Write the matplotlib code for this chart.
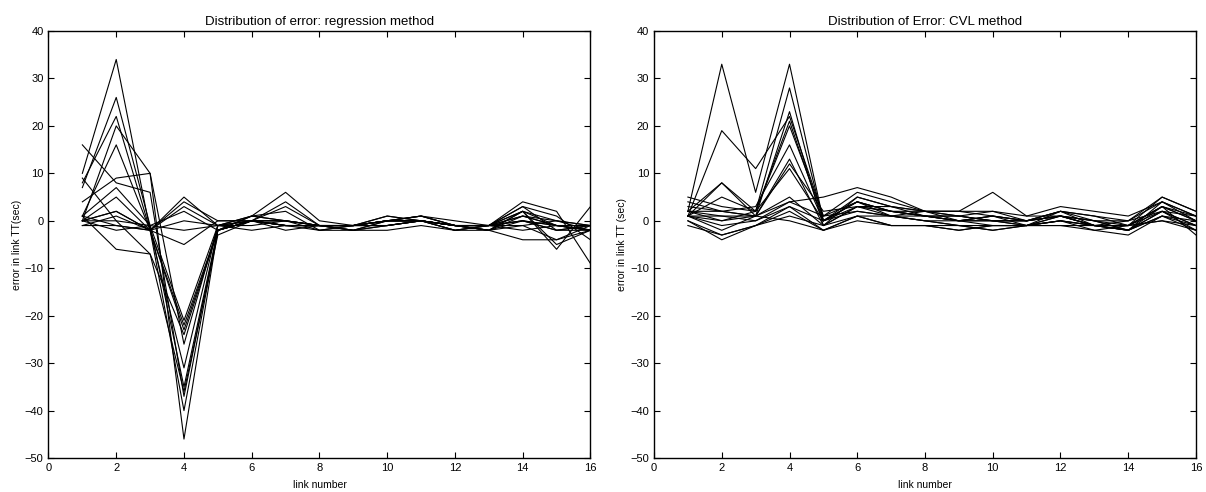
import matplotlib.pyplot as plt

plt.rcParams['font.family'] = ['Liberation Sans', 'DejaVu Sans']

links = list(range(1, 17))

# errors per run, regression method (one list per run)
reg_runs = [
    [10, 34, -2, -23, -2, 0, -1, -1, -1, 0, 0, -1, -1, 1, 0, -1],
    [7, 26, -1, -35, -2, 1, 0, -1, -1, 0, 1, -1, -1, 2, 0, -2],
    [8, 22, -2, -40, -2, 0, -1, -1, -2, 0, 0, -1, -2, 1, -1, -1],
    [0, 20, 10, -46, -2, 0, 0, -1, -1, -1, 0, -2, -1, 0, -1, -2],
    [1, 16, -2, -31, -1, 0, -1, -1, -2, 0, 0, -1, -1, 0, -2, -2],
    [16, 8, 6, -37, -2, 0, 0, -1, -1, 0, 0, -1, -1, 3, -2, -1],
    [4, 9, 10, -26, -1, 0, -1, -1, -1, 1, 0, -1, -2, 2, -1, -2],
    [9, 0, -7, -36, -3, 0, 0, -2, -1, 0, 1, -1, -1, 0, -1, -1],
    [1, -6, -7, -24, -2, 0, -1, -1, -1, -1, 0, -1, -1, -1, -4, -2],
    [0, 2, -2, -22, -2, 0, -1, -1, -1, 0, 0, -1, -2, 0, -2, -1],
    [1, 7, -1, -21, -1, 1, 0, -1, -1, 0, 0, -2, -1, 1, -1, -2],
    [0, 5, -2, 5, -1, 1, 6, 0, -1, 0, 1, 0, -1, 4, 2, -9],
    [0, 2, -2, 4, 0, 0, 4, -1, -2, -1, 0, -1, -1, 3, 1, -4],
    [-1, 1, -2, 3, -1, 0, 3, -1, -1, 1, 0, -1, -2, 2, -5, -2],
    [0, 0, -1, 2, -2, 1, 2, -2, -1, 0, 1, -1, -1, 2, -6, 3],
    [1, -1, -2, 0, -1, -1, 0, -1, -1, -1, 0, -1, -2, -1, 0, -1],
    [0, -2, -1, -2, -1, -2, -1, -2, -2, -1, 0, -2, -1, -2, -1, -2],
    [-1, -1, -2, -5, 0, 0, -2, -1, -2, -2, -1, -2, -2, -4, -4, -1],
]

# errors per run, CVL method
cvl_runs = [
    [2, 33, 6, 33, 0, 3, 2, 1, 0, 1, -1, 1, -1, -1, 3, 1],
    [1, 19, 11, 22, 1, 4, 2, 1, 1, 0, 0, 2, -1, -2, 4, 0],
    [1, 8, 2, 28, 0, 5, 3, 2, 1, 0, -1, 1, 0, -1, 5, 2],
    [2, 8, 1, 23, -1, 3, 1, 0, 0, -1, -1, 0, -1, -2, 2, -1],
    [1, 5, 2, 21, 0, 4, 2, 1, 0, 1, 0, 1, -1, -1, 3, 0],
    [5, 3, 2, 20, 1, 6, 4, 2, 2, 1, 0, 2, 1, 0, 5, 2],
    [4, 2, 3, 16, 0, 4, 2, 2, 2, 2, 1, 3, 2, 1, 4, 1],
    [3, 2, 1, 13, -1, 3, 2, 1, 1, 0, 0, 1, 0, -2, 2, -2],
    [1, 1, 1, 12, 2, 3, 3, 2, 2, 6, 1, 1, -1, -1, 3, 0],
    [2, 0, 2, 11, 0, 4, 1, 2, 1, 2, 0, 1, -1, 0, 4, 1],
    [1, -1, 0, 4, 5, 7, 5, 2, 0, 0, -1, 2, 1, -1, 2, -1],
    [2, 2, 1, 5, -1, 5, 3, 1, 0, 1, 0, 2, 0, -2, 3, -3],
    [1, -2, 1, 4, 1, 2, 1, 0, -1, -1, -1, 0, -1, -2, 1, 0],
    [0, -3, -1, 3, -2, 1, 1, 0, -1, -2, -1, 0, -2, -3, 1, -1],
    [0, -4, -1, 2, -2, 1, -1, -1, -1, -2, -1, 0, -1, -1, 0, -2],
    [-1, -3, -1, 1, -1, 1, -1, -1, -2, -1, -1, -1, -2, -1, 0, -1],
    [1, 0, 1, 0, -2, 0, -1, -1, -2, -1, -1, -1, -1, -2, 1, -2],
    [2, 1, 0, 3, 0, 2, 1, 1, 0, 0, 0, 1, 0, 0, 2, 1],
]

titles = ['Distribution of error: regression method', 'Distribution of Error: CVL method']
ylabels = ['error in link TT(sec)', 'error in link TT (sec)']

fig = plt.figure(figsize=(12.06, 4.92), dpi=100)
ax1 = fig.add_axes([0.0402, 0.069, 0.4494, 0.868])
ax2 = fig.add_axes([0.5423, 0.069, 0.4494, 0.868])

for ax, runs, title, ylab in zip([ax1, ax2], [reg_runs, cvl_runs], titles, ylabels):
    for run in runs:
        ax.plot(links, run, color='black', linewidth=0.8)
    ax.set_xlim(0, 16)
    ax.set_ylim(-50, 40)
    ax.set_xticks(range(0, 17, 2))
    ax.set_yticks(range(-50, 41, 10))
    ax.set_yticklabels([str(v).replace('-', '\u2212') for v in range(-50, 41, 10)])
    ax.tick_params(direction='in', top=True, right=True, labelsize=8, length=4, width=0.8)
    ax.set_title(title, fontsize=9.5, pad=4)
    ax.set_xlabel('link number', fontsize=7.5, labelpad=5)
    ax.set_ylabel(ylab, fontsize=7.5, labelpad=2)
    for sp in ax.spines.values():
        sp.set_linewidth(1.0)

fig.savefig('out.png', dpi=100)
